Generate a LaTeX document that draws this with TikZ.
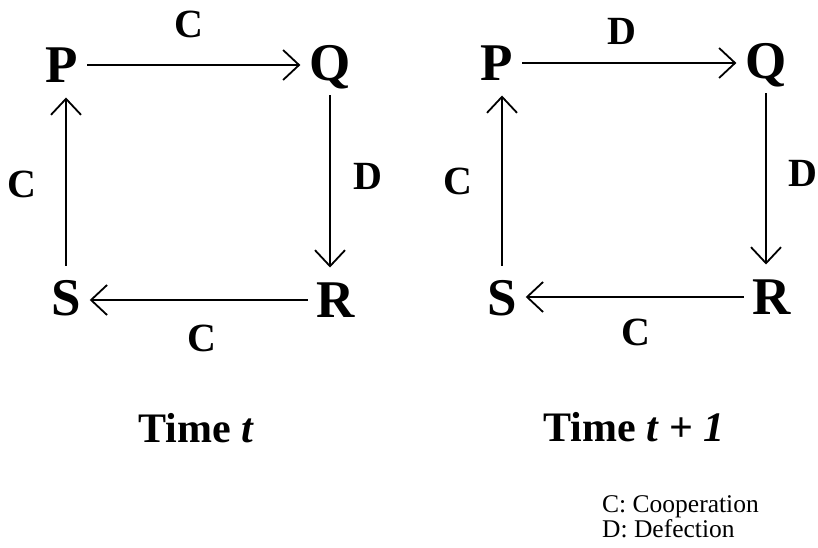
\documentclass[tikz,border=0pt]{standalone}
\usepackage{fontspec}
\setmainfont{Liberation Serif}
\usetikzlibrary{arrows.meta}
\begin{document}
\begin{tikzpicture}[x=1pt,y=-1pt,
  state/.style={font=\fontsize{53}{60}\selectfont\bfseries, inner sep=0pt,
    text height=35pt, text depth=0pt, outer xsep=9pt, outer ysep=15pt},
  lab/.style={font=\fontsize{40}{46}\selectfont\bfseries, inner sep=0pt,
    text height=26.5pt, text depth=0pt},
  arr/.style={line width=1.8pt, -{Straight Barb[length=16pt,width=30pt]}},
  timelab/.style={font=\fontsize{42}{48}\selectfont\bfseries, inner sep=0pt, anchor=base},
  legend/.style={font=\fontsize{25.5}{28}\selectfont, inner sep=0pt, anchor=base west}
]
\useasboundingbox (0,0) rectangle (818,548);
% Time t
\node[state] (P1) at (62,65) {P};
\node[state] (Q1) at (330,63) {Q};
\node[state] (S1) at (66,298) {S};
\node[state] (R1) at (336,300) {R};
\draw[arr] (P1.east) -- (P1.east -| Q1.west);
\draw[arr] (Q1.south) -- (Q1.south |- R1.north);
\draw[arr] (R1.west) -- (R1.west -| S1.east);
\draw[arr] (S1.north) -- (S1.north |- P1.south);
\node[lab] (l1a) at (189,24) {C};
\node[lab] (l1b) at (368,176) {D};
\node[lab] (l1c) at (202,338) {C};
\node[lab] (l1d) at (22,184) {C};
% Time t+1
\node[state] (P2) at (497,63) {P};
\node[state] (Q2) at (766,61) {Q};
\node[state] (S2) at (502,298) {S};
\node[state] (R2) at (772,297) {R};
\draw[arr] (P2.east) -- (P2.east -| Q2.west);
\draw[arr] (Q2.south) -- (Q2.south |- R2.north);
\draw[arr] (R2.west) -- (R2.west -| S2.east);
\draw[arr] (S2.north) -- (S2.north |- P2.south);
\node[lab] (l2a) at (622,31) {D};
\node[lab] (l2b) at (803,173) {D};
\node[lab] (l2c) at (636,332) {C};
\node[lab] (l2d) at (458,181) {C};
% captions
\node[timelab] (t1) at (196,442) {Time \textit{t}};
\node[timelab] (t2) at (634,441) {Time \textit{t} + \textit{1}};
% legend
\node[legend] (lg1) at (602,512) {C: Cooperation};
\node[legend] (lg2) at (602,537) {D: Defection};
\end{tikzpicture}
\end{document}
